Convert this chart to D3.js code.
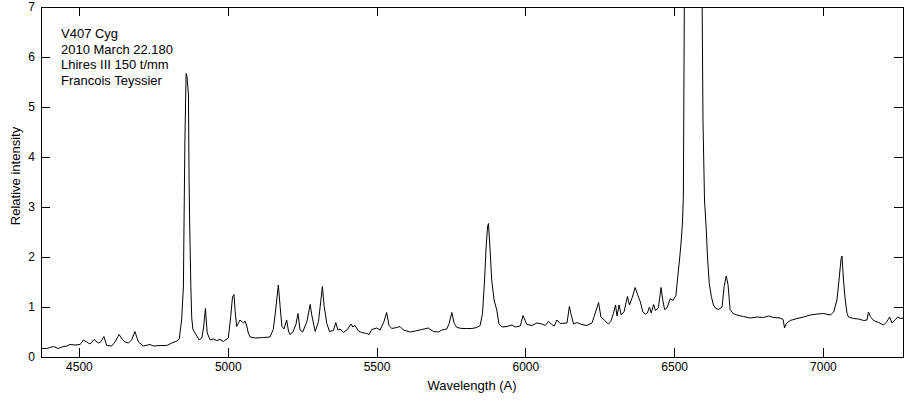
<!DOCTYPE html>
<html>
<head>
<meta charset="utf-8">
<script src="https://cdn.jsdelivr.net/npm/d3@7"></script>
<style>
  html, body { margin: 0; padding: 0; background: #fff; }
  svg { display: block; }
  text { font-family: Arial, "Liberation Sans", sans-serif; fill: #000; }
</style>
</head>
<body>
<svg id="chart" width="914" height="400"></svg>
<script>
// ---- Data ----
const wavelength = [
  4375,4392,4403,4414,4431,4447,4459,4470,4487,4504,4515,4526,4537,4551,4565,4573,4584,4593,4610,4621,
  4635,4646,4655,4666,4677,4688,4700,4716,4739,4750,4772,4795,4812,4829,4837,4845,4851,4853,4856,4858,
  4860,4863,4868,4870,4872,4876,4879,4883,4890,4904,4913,4919,4925,4931,4941,4952,4963,4974,4985,5002,
  5010,5016,5021,5025,5030,5041,5053,5058,5064,5069,5075,5092,5120,5142,5153,5161,5170,5176,5182,5189,
  5198,5204,5209,5219,5229,5236,5243,5252,5266,5277,5282,5294,5305,5313,5318,5324,5333,5342,5355,5363,
  5370,5378,5389,5402,5414,5420,5428,5439,5450,5467,5475,5484,5501,5512,5525,5534,5542,5551,5568,5579,
  5590,5613,5630,5652,5674,5691,5708,5719,5736,5744,5753,5761,5770,5787,5803,5820,5837,5848,5856,5863,
  5868,5873,5876,5882,5887,5895,5904,5911,5921,5938,5955,5966,5983,5992,6005,6022,6039,6056,6067,6078,
  6089,6097,6106,6117,6140,6148,6153,6162,6173,6190,6207,6224,6235,6246,6254,6265,6279,6287,6296,6303,
  6308,6315,6322,6332,6343,6350,6358,6369,6377,6386,6395,6403,6410,6417,6423,6431,6437,6447,6456,6462,
  6468,6476,6487,6496,6506,6511,6518,6524,6528,6531,6535,6554,6574,6593,6595,6597,6602,6608,6612,6618,
  6625,6632,6640,6649,6661,6668,6675,6681,6688,6698,6711,6733,6756,6778,6800,6817,6834,6856,6866,6871,
  6877,6890,6913,6935,6957,6980,7002,7025,7036,7047,7054,7061,7064,7069,7075,7081,7086,7103,7120,7137,
  7148,7153,7159,7170,7187,7204,7215,7224,7232,7243,7252,7260,7270
];
const intensity = [
  0.17,0.17,0.19,0.21,0.17,0.21,0.22,0.25,0.24,0.25,0.34,0.30,0.26,0.35,0.28,0.30,0.41,0.23,0.22,0.30,
  0.45,0.35,0.30,0.28,0.34,0.51,0.30,0.22,0.25,0.22,0.23,0.23,0.28,0.32,0.36,0.74,1.40,2.60,4.30,5.00,
  5.67,5.62,5.24,3.60,2.70,1.41,0.78,0.55,0.48,0.34,0.38,0.60,0.97,0.48,0.34,0.36,0.33,0.35,0.31,0.38,
  0.81,1.20,1.25,0.91,0.61,0.74,0.68,0.72,0.62,0.48,0.40,0.38,0.39,0.40,0.55,0.94,1.44,1.01,0.61,0.56,
  0.74,0.52,0.45,0.50,0.65,0.87,0.54,0.50,0.71,1.05,0.85,0.51,0.71,1.14,1.41,1.01,0.67,0.51,0.53,0.69,
  0.54,0.56,0.49,0.55,0.66,0.60,0.63,0.52,0.49,0.47,0.45,0.55,0.58,0.54,0.71,0.89,0.63,0.57,0.59,0.61,
  0.54,0.50,0.52,0.55,0.58,0.51,0.50,0.54,0.56,0.67,0.89,0.67,0.59,0.57,0.57,0.57,0.59,0.63,0.87,1.54,
  2.18,2.60,2.67,2.10,1.54,1.14,0.94,0.67,0.60,0.61,0.64,0.60,0.62,0.83,0.65,0.63,0.68,0.66,0.63,0.71,
  0.65,0.62,0.74,0.67,0.68,1.01,0.87,0.66,0.69,0.65,0.63,0.68,0.88,1.09,0.80,0.74,0.66,0.71,0.87,1.04,
  0.82,1.04,0.84,0.91,1.21,1.04,1.17,1.39,1.25,1.11,0.90,0.86,0.88,1.00,0.88,1.05,0.93,0.98,1.39,1.13,
  0.95,0.98,1.17,1.13,1.23,1.54,1.94,2.34,2.70,3.20,8.00,13.0,13.0,8.00,6.30,4.70,3.14,2.54,2.00,1.47,
  1.21,1.04,0.97,0.95,1.00,1.41,1.62,1.45,0.95,0.87,0.84,0.81,0.78,0.80,0.79,0.82,0.79,0.78,0.75,0.58,
  0.67,0.73,0.77,0.80,0.84,0.86,0.87,0.84,0.90,1.14,1.54,1.97,2.02,1.54,1.14,0.87,0.80,0.77,0.76,0.73,
  0.74,0.90,0.81,0.73,0.69,0.64,0.71,0.80,0.68,0.75,0.80,0.77,0.78
];
const xTicks = [4500, 5000, 5500, 6000, 6500, 7000];
const yTicks = [0, 1, 2, 3, 4, 5, 6, 7];
const xDomain = [4372.5, 7269];
const yDomain = [0, 7];
const annotation = ["V407 Cyg", "2010 March 22.180", "Lhires III 150 t/mm", "Francois Teyssier"];
const xLabel = "Wavelength (A)";
const yLabel = "Relative intensity";

// ---- Layout ----
const m = { left: 41, right: 11, top: 7, bottom: 43 };
const W = 914, H = 400;
const iw = W - m.left - m.right, ih = H - m.top - m.bottom;
const svg = d3.select("#chart");
const g = svg.append("g").attr("transform", `translate(${m.left},${m.top})`);

const x = d3.scaleLinear().domain(xDomain).range([0, iw]);
const y = d3.scaleLinear().domain(yDomain).range([ih, 0]);

svg.append("defs").append("clipPath").attr("id", "clip")
  .append("rect").attr("x", 0).attr("y", 0).attr("width", iw).attr("height", ih);

const data = wavelength.map((w, i) => ({ w, v: intensity[i] }));
g.append("path")
  .datum(data)
  .attr("clip-path", "url(#clip)")
  .attr("fill", "none")
  .attr("stroke", "#000")
  .attr("stroke-width", 1)
  .attr("d", d3.line().x(d => x(d.w)).y(d => y(d.v)));

// Axes (inward ticks, boxed)
const TL = 9;
const fmt = d3.format("d");
const styleAxis = sel => {
  sel.select(".domain").attr("stroke", "#000").attr("shape-rendering", "crispEdges");
  sel.selectAll(".tick line").attr("stroke", "#000").attr("shape-rendering", "crispEdges");
  sel.selectAll("text").attr("font-size", 12).attr("fill", "#000")
     .style("font-family", "Arial, 'Liberation Sans', sans-serif");
};
const xb = g.append("g").attr("transform", `translate(0,${ih})`)
  .call(d3.axisBottom(x).tickValues(xTicks).tickFormat(fmt).tickSizeInner(-TL).tickSizeOuter(0).tickPadding(5));
styleAxis(xb);
const xt = g.append("g")
  .call(d3.axisTop(x).tickValues(xTicks).tickFormat("").tickSizeInner(-TL).tickSizeOuter(0));
styleAxis(xt);
const yl = g.append("g")
  .call(d3.axisLeft(y).tickValues(yTicks).tickFormat(fmt).tickSizeInner(-TL).tickSizeOuter(0).tickPadding(6));
styleAxis(yl);
const yr = g.append("g").attr("transform", `translate(${iw},0)`)
  .call(d3.axisRight(y).tickValues(yTicks).tickFormat("").tickSizeInner(-TL).tickSizeOuter(0));
styleAxis(yr);

// Axis titles
svg.append("text").attr("x", m.left + iw / 2).attr("y", 390)
  .attr("text-anchor", "middle").attr("font-size", 13).text(xLabel);
svg.append("text").attr("transform", `translate(20,${m.top + ih / 2 - 6}) rotate(-90)`)
  .attr("text-anchor", "middle").attr("font-size", 13).text(yLabel);

// Annotation
svg.append("g").selectAll("text").data(annotation).join("text")
  .attr("x", 61).attr("y", (d, i) => 38 + i * 15.7)
  .attr("font-size", 13).text(d => d);
</script>
</body>
</html>
